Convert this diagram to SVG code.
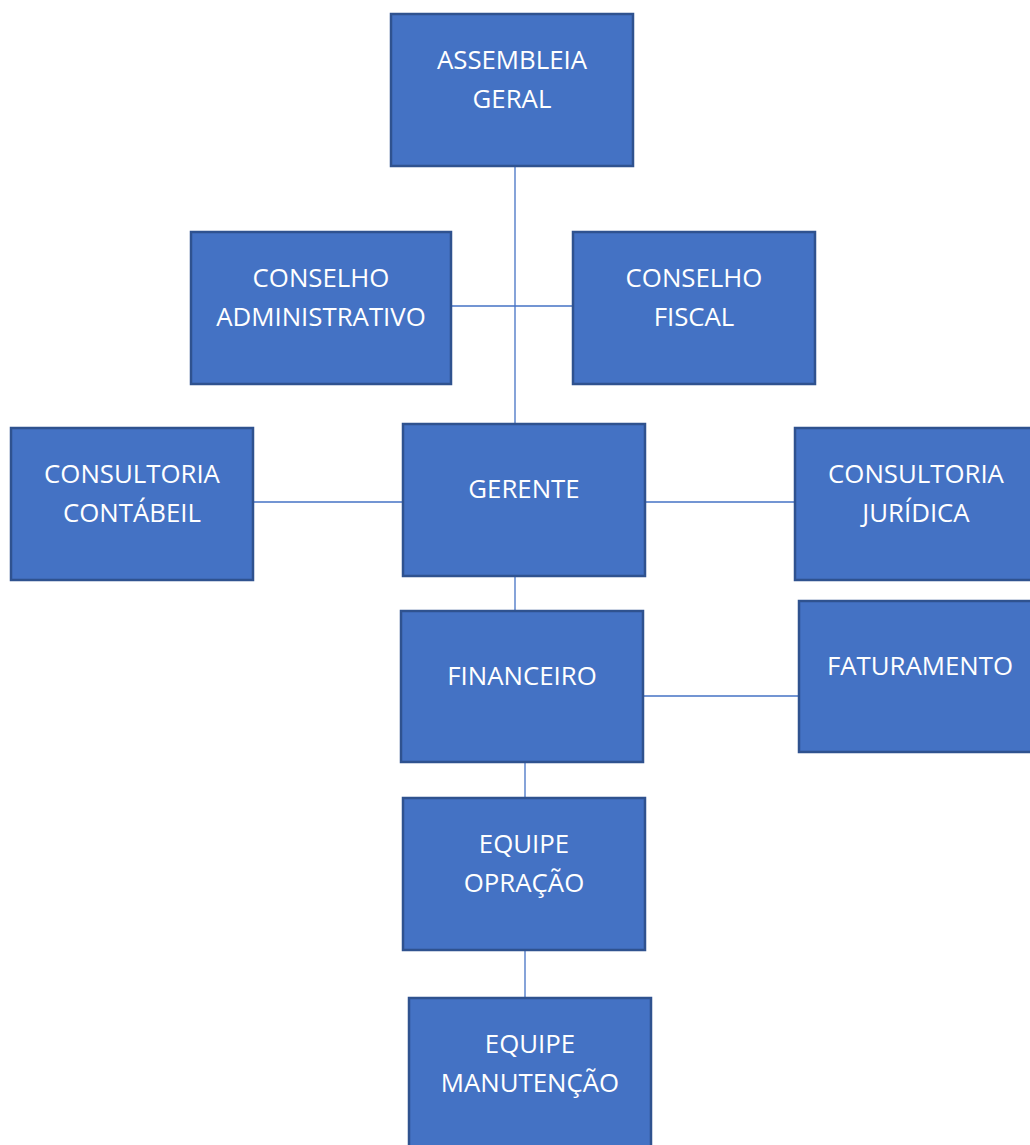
<svg xmlns="http://www.w3.org/2000/svg" width="1030" height="1145" viewBox="0 0 1030 1145">
<style>
.box{fill:#4472C4;stroke:#2F528F;stroke-width:2.5}
.lbl{fill:#FFFFFF;font-family:"Open Sans","Liberation Sans",sans-serif;font-size:25.8px;text-anchor:middle}
.con{stroke:#4472C4;stroke-width:1.3;fill:none}
</style>
<rect width="1030" height="1145" fill="#FFFFFF"/>
<g id="connectors">
<line class="con" x1="515" y1="166" x2="515" y2="424"/>
<line class="con" x1="452" y1="306" x2="573" y2="306"/>
<line class="con" x1="254" y1="502" x2="403" y2="502"/>
<line class="con" x1="646" y1="502" x2="795" y2="502"/>
<line class="con" x1="515" y1="576" x2="515" y2="610"/>
<line class="con" x1="644" y1="696" x2="799" y2="696"/>
<line class="con" x1="525" y1="762" x2="525" y2="798"/>
<line class="con" x1="525" y1="951" x2="525" y2="999"/>
</g>
<g id="assembleia">
<rect class="box" x="391" y="14" width="242" height="152"/>
<text class="lbl" x="512" y="69">ASSEMBLEIA</text>
<text class="lbl" x="512" y="108">GERAL</text>
</g>
<g id="conselho-administrativo">
<rect class="box" x="191" y="232" width="260" height="152"/>
<text class="lbl" x="321" y="287">CONSELHO</text>
<text class="lbl" x="321" y="326">ADMINISTRATIVO</text>
</g>
<g id="conselho-fiscal">
<rect class="box" x="573" y="232" width="242" height="152"/>
<text class="lbl" x="694" y="287">CONSELHO</text>
<text class="lbl" x="694" y="326">FISCAL</text>
</g>
<g id="consultoria-contabeil">
<rect class="box" x="11" y="428" width="242" height="152"/>
<text class="lbl" x="132" y="483">CONSULTORIA</text>
<text class="lbl" x="132" y="522">CONTÁBEIL</text>
</g>
<g id="gerente">
<rect class="box" x="403" y="424" width="242" height="152"/>
<text class="lbl" x="524" y="498">GERENTE</text>
</g>
<g id="consultoria-juridica">
<rect class="box" x="795" y="428" width="242" height="152"/>
<text class="lbl" x="916" y="483">CONSULTORIA</text>
<text class="lbl" x="916" y="522">JURÍDICA</text>
</g>
<g id="financeiro">
<rect class="box" x="401" y="611" width="242" height="151"/>
<text class="lbl" x="522" y="685">FINANCEIRO</text>
</g>
<g id="faturamento">
<rect class="box" x="799" y="601" width="242" height="151"/>
<text class="lbl" x="920" y="675">FATURAMENTO</text>
</g>
<g id="equipe-operacao">
<rect class="box" x="403" y="798" width="242" height="152"/>
<text class="lbl" x="524" y="853">EQUIPE</text>
<text class="lbl" x="524" y="892">OPRAÇÃO</text>
</g>
<g id="equipe-manutencao">
<rect class="box" x="409" y="998" width="242" height="152"/>
<text class="lbl" x="530" y="1053">EQUIPE</text>
<text class="lbl" x="530" y="1092">MANUTENÇÃO</text>
</g>
</svg>
